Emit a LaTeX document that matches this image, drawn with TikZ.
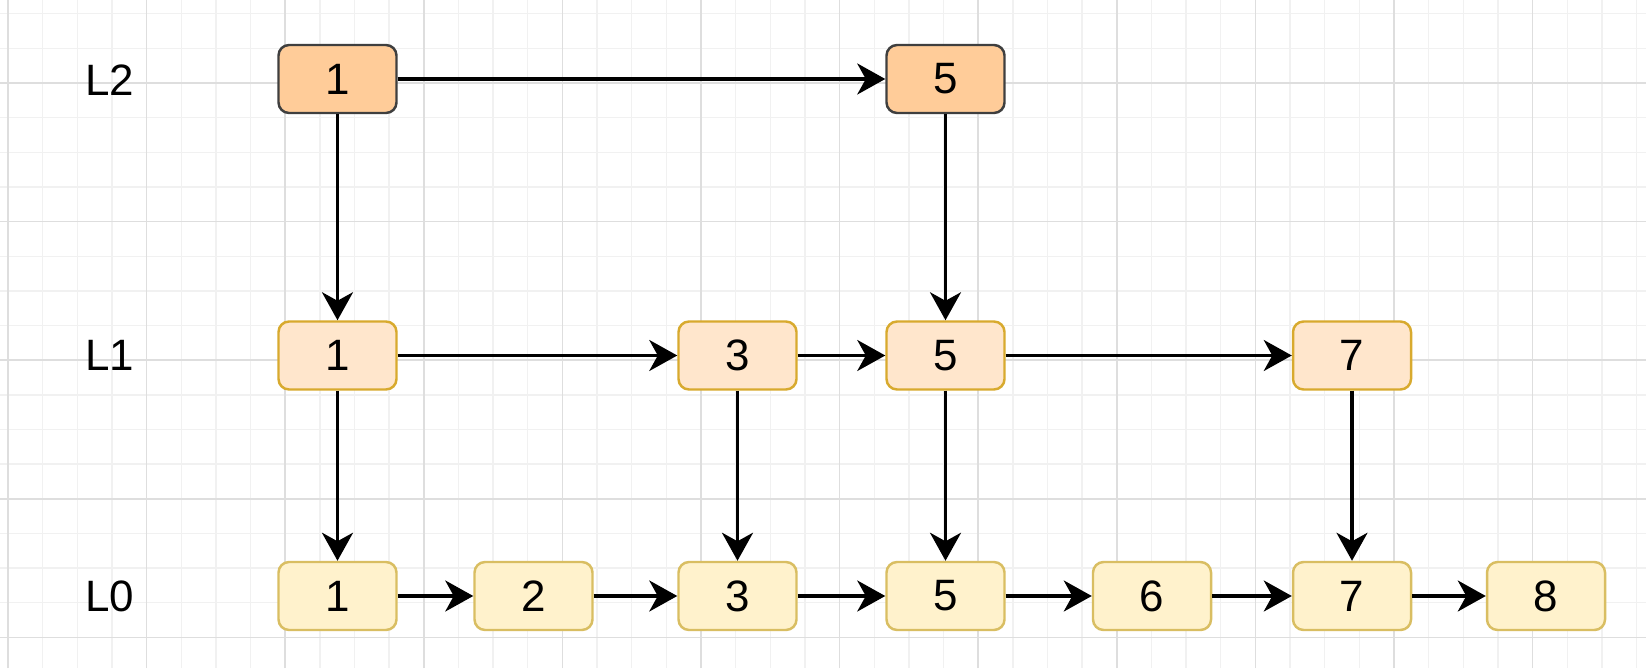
\documentclass[tikz,border=0pt]{standalone}
\usepackage{fontspec}
\setmainfont{Liberation Sans}
\usepackage{xcolor}
\usepackage{tikz}
\usetikzlibrary{positioning,arrows.meta}

\definecolor{topfill}{HTML}{FFCC99}
\definecolor{topline}{HTML}{3F3F3F}
\definecolor{midfill}{HTML}{FFE6CC}
\definecolor{midline}{HTML}{D8AA2E}
\definecolor{botfill}{HTML}{FFF2CC}
\definecolor{botline}{HTML}{D9BE62}
\definecolor{gridminor}{HTML}{F1F1F1}
\definecolor{gridmajor}{HTML}{DEDEDE}

\begin{document}
\begin{tikzpicture}[font=\fontsize{25}{30}\selectfont,
      key/.style={draw,rounded corners=6pt,line width=1.4pt,minimum width=2.36cm,minimum height=1.36cm,inner sep=0pt},
      lvtop/.style={key,fill=topfill,draw=topline},
      lvmid/.style={key,fill=midfill,draw=midline},
      lvbot/.style={key,fill=botfill,draw=botline},
      minorline/.style={draw=gridminor,line width=0.8pt},
      majorline/.style={draw=gridmajor,line width=0.9pt},
      arr/.style={-{Stealth[length=0.56cm,width=0.62cm,inset=0.17cm]},line width=1.9pt}]
    \useasboundingbox (0,0) rectangle (32.92,13.36);
    \fill[white] (0,0) rectangle (32.92,13.36);
    % background grid
    \foreach \k in {0,...,47} {
      \draw[minorline] ({0.16+\k*0.693},0) -- ++(0,13.36);
    }
    \foreach \k in {0,...,18} {
      \draw[minorline] (0,{13.086-\k*0.693}) -- ++(32.92,0);
    }
    \foreach \k in {0,4,...,44} {
      \draw[majorline] ({0.16+\k*0.693},0) -- ++(0,13.36);
    }
    \foreach \k in {2,6,...,18} {
      \draw[majorline] (0,{13.086-\k*0.693}) -- ++(32.92,0);
    }
    % level labels
    \node (lab2) at (2.2, 11.76) {L2};
    \node (lab1) at (2.2, 6.25) {L1};
    \node (lab0) at (2.2, 1.44) {L0};
    % nodes
    \foreach \i/\x in {1/6.75,5/18.91} {
      \node[lvtop] (top\i) at (\x, 11.78) {\i};
    }
    \foreach \i/\x in {1/6.75,3/14.75,5/18.91,7/27.04} {
      \node[lvmid] (mid\i) at (\x, 6.25) {\i};
    }
    \foreach \i/\x in {1/6.75,2/10.67,3/14.75,5/18.91,6/23.04,7/27.04,8/30.92} {
      \node[lvbot] (bot\i) at (\x, 1.44) {\i};
    }
    % links
    \draw[arr] (top1) -- (top5);
    \draw[arr] (top1) -- (mid1);
    \draw[arr] (top5) -- (mid5);
    \foreach \a/\b in {1/3,3/5,5/7} {
      \draw[arr] (mid\a) -- (mid\b);
    }
    \foreach \i in {1,3,5,7} {
      \draw[arr] (mid\i) -- (bot\i);
    }
    \foreach \a/\b in {1/2,2/3,3/5,5/6,6/7,7/8} {
      \draw[arr] (bot\a) -- (bot\b);
    }
  \end{tikzpicture}
\end{document}
